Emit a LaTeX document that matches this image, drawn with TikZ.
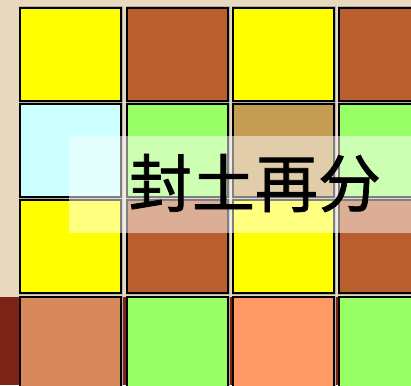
\documentclass[tikz,border=0pt]{standalone}
\usepackage{fontspec}
\newfontfamily\cjk[FakeBold=1.2]{Noto Sans CJK SC}
\usepackage{tikz}

\definecolor{beige}{HTML}{E8D8BE}
\definecolor{darkred}{HTML}{7B2416}
\definecolor{fieldyellow}{HTML}{FFFF00}
\definecolor{fieldbrown}{HTML}{B95E2E}
\definecolor{fieldcyan}{HTML}{CCFFFF}
\definecolor{fieldgreen}{HTML}{99FF66}
\definecolor{fieldtan}{HTML}{C49C54}
\definecolor{fieldsalmon}{HTML}{D8885A}
\definecolor{fieldorange}{HTML}{FF9966}

\tikzset{
  field/.style={draw=black, line width=1.3pt,
    preaction={draw=gray!60, line width=3pt}},
}

\begin{document}
\begin{tikzpicture}[x=1pt, y=-1pt]
		\useasboundingbox (0, 0) rectangle (411, 385);
		\clip (0, 0) rectangle (411, 385);
		% draw background
		\fill [beige] (0, 0) rectangle (411, 385);
		\fill [darkred] (0, 297) rectangle (411, 385);
		\draw [white, opacity=.3, line width=2pt] (-40, 385) arc [start angle=180, end angle=110, radius=80];
		% draw first row
		\draw [field, fill=fieldyellow] (20, 8) rectangle (121, 101);
		\draw [field, fill=fieldbrown] (127, 8) rectangle (228, 101);
		\draw [field, fill=fieldyellow] (233, 8) rectangle (334, 101);
		\draw [field, fill=fieldbrown] (339, 8) rectangle (440, 101);
		% draw second row
		\draw [field, fill=fieldcyan] (20, 104) rectangle (121, 197);
		\draw [field, fill=fieldgreen] (127, 104) rectangle (228, 197);
		\draw [field, fill=fieldtan] (233, 104) rectangle (334, 197);
		\draw [field, fill=fieldgreen] (339, 104) rectangle (440, 197);
		% draw third row
		\draw [field, fill=fieldyellow] (20, 200) rectangle (121, 293);
		\draw [field, fill=fieldbrown] (127, 200) rectangle (228, 293);
		\draw [field, fill=fieldyellow] (233, 200) rectangle (334, 293);
		\draw [field, fill=fieldbrown] (339, 200) rectangle (440, 293);
		% draw fourth row
		\draw [field, fill=fieldsalmon] (20, 297) rectangle (121, 400);
		\draw [field, fill=fieldgreen] (127, 297) rectangle (228, 400);
		\draw [field, fill=fieldorange] (233, 297) rectangle (334, 400);
		\draw [field, fill=fieldgreen] (339, 297) rectangle (440, 400);
		% draw title band
		\fill [white, opacity=.5] (69, 136) rectangle (411, 233);
		\node (title) at (255, 183) {\cjk\fontsize{63}{63}\selectfont 封土再分};
	\end{tikzpicture}
\end{document}
